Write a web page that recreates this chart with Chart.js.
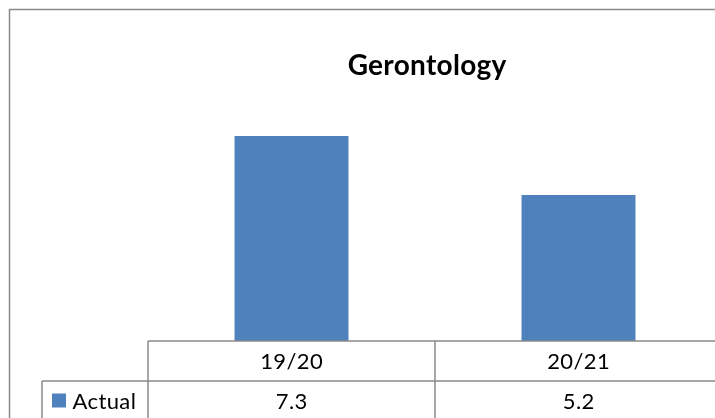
<!DOCTYPE html>
<html>
<head>
<meta charset="utf-8">
<script src="https://cdn.jsdelivr.net/npm/chart.js@4"></script>
<style>
  html, body { margin: 0; padding: 0; background: #fff; overflow: hidden; width: 715px; height: 418px; }
  #wrap { position: absolute; left: 0; top: 0; width: 730px; height: 430px; }
</style>
</head>
<body>
<div id="wrap"><canvas id="c" width="730" height="430"></canvas></div>
<script>
const chartTitle = "Gerontology";
const categories = ["19/20", "20/21"];
const seriesName = "Actual";
const actualValues = [7.3, 5.2];
const valueLabels = ["7.3", "5.2"];

const BAR_COLOR = "#4f81bd";
const LINE_COLOR = "#8a8a8a";

function spacedText(ctx, text, x, y, spacing, align) {
  ctx.letterSpacing = spacing + "px";
  const w = ctx.measureText(text).width;
  let sx = x;
  if (align === "center") sx = x - (w - spacing) / 2;
  ctx.textAlign = "left";
  ctx.fillText(text, sx, y);
  ctx.letterSpacing = "0px";
}

const tablePlugin = {
  id: "tablePlugin",
  afterDraw(chart) {
    const ctx = chart.ctx;
    const area = chart.chartArea;
    const xs = chart.scales.x;
    ctx.save();
    ctx.strokeStyle = LINE_COLOR;
    ctx.lineWidth = 1.5;
    // outer border
    ctx.strokeRect(9.5, 9.5, 760, 460);

    // title
    ctx.fillStyle = "#000";
    ctx.font = "bold 28px Lato";
    ctx.textBaseline = "alphabetic";
    spacedText(ctx, chartTitle, 427, 75, 0.3, "center");

    // table geometry
    const top = area.bottom;
    const rowH = 40;
    const left = area.left;
    const right = area.right;
    const legendLeft = 42;
    ctx.beginPath();
    ctx.moveTo(left, top); ctx.lineTo(right + 20, top);
    ctx.moveTo(legendLeft, top + rowH); ctx.lineTo(right + 20, top + rowH);
    ctx.moveTo(left, top); ctx.lineTo(left, top + 3 * rowH);
    ctx.moveTo(legendLeft, top + rowH); ctx.lineTo(legendLeft, top + 3 * rowH);
    const half = (xs.getPixelForValue(1) - xs.getPixelForValue(0)) / 2;
    for (let i = 0; i < categories.length; i++) {
      const sep = xs.getPixelForValue(i) + half;
      ctx.moveTo(sep, top); ctx.lineTo(sep, top + 3 * rowH);
    }
    ctx.stroke();

    ctx.font = "22px Lato";
    ctx.textBaseline = "alphabetic";
    ctx.fillStyle = "#000";
    categories.forEach((c, i) => {
      const cx = xs.getPixelForValue(i);
      spacedText(ctx, c, cx, top + 28, 0.4, "center");
      spacedText(ctx, valueLabels[i], cx, top + rowH + 28, 0.4, "center");
    });
    // legend
    ctx.fillStyle = BAR_COLOR;
    ctx.fillRect(52, top + rowH + 12.5, 14, 14);
    ctx.fillStyle = "#000";
    spacedText(ctx, seriesName, 72.5, top + rowH + 28, 0.4, "left");
    ctx.restore();
  }
};

new Chart(document.getElementById("c"), {
  type: "bar",
  data: {
    labels: categories,
    datasets: [{
      label: seriesName,
      data: actualValues,
      backgroundColor: BAR_COLOR,
      borderWidth: 0,
      categoryPercentage: 1.0,
      barPercentage: 0.397
    }]
  },
  options: {
    responsive: false,
    animation: false,
    devicePixelRatio: 1,
    layout: { padding: { left: 148, right: 8, top: 116.4, bottom: 89 } },
    plugins: { legend: { display: false }, tooltip: { enabled: false }, title: { display: false } },
    scales: {
      x: { display: false, offset: true },
      y: { display: false, min: 0, max: 8 }
    }
  },
  plugins: [tablePlugin]
});
</script>
</body>
</html>
